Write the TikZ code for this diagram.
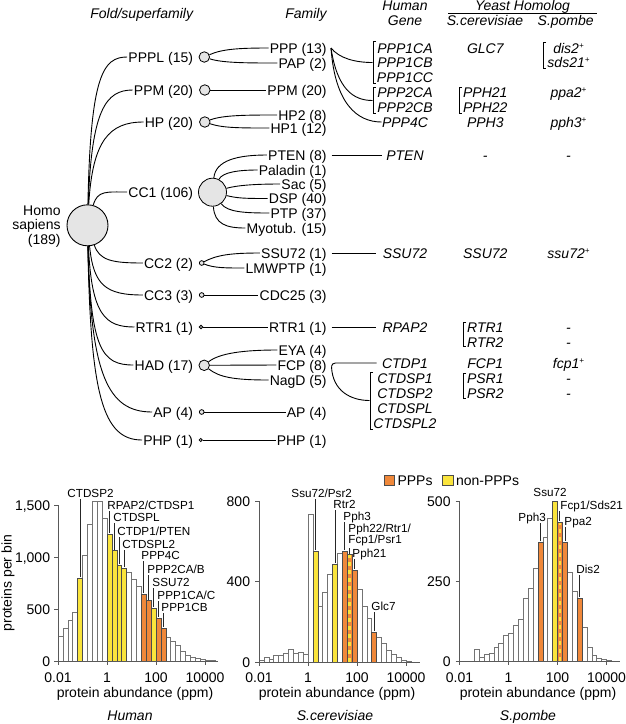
\documentclass[tikz,border=0pt]{standalone}
\usepackage{fontspec}
\setmainfont{Liberation Sans}
\usetikzlibrary{calc}
\definecolor{cor}{RGB}{240,136,58}
\definecolor{cye}{RGB}{250,228,60}
\definecolor{cfill}{RGB}{229,229,229}
\newcommand\fsz[1]{\fontsize{#1}{#1}\selectfont}
\newcommand\spl{\raisebox{4.5pt}{\fsz{8}+}}
\newcommand\hbars[4]{\foreach \hh [count=\ii from 0] in {#4}{\ifnum\hh>0 \draw[bW] ({#1+\ii*4.9},#2) rectangle ({#1+(\ii+1)*4.9},{#2-\hh*#3});\fi}}
\newcommand\cb[6]{\draw[#1] ({#2+#5*4.9},#3) rectangle ({#2+(#5+1)*4.9},{#3-#6*#4});}
\newcommand\sbar[5]{\fill[cor] ({#1+#4*4.9},#2) rectangle ({#1+(#4+1)*4.9},{#2-#5*#3});
 \draw[cye, line width=2.6pt, dash pattern=on 4pt off 4pt] ({#1+(#4+0.5)*4.9},{#2-0.5}) -- ({#1+(#4+0.5)*4.9},{#2-#5*#3+0.5});
 \draw[bC] ({#1+#4*4.9},#2) rectangle ({#1+(#4+1)*4.9},{#2-#5*#3});}
\newcommand\lbrak[3]{\draw[line width=0.8pt] ({#1+3},#2) -- (#1,#2) -- (#1,#3) -- ({#1+3},#3);}
\begin{document}
\begin{tikzpicture}[x=1pt,y=-1pt, line width=0.9pt,
  tx/.style={font=\fsz{14}, text height=10pt, text depth=0pt, inner sep=0pt},
  itx/.style={tx, font=\fsz{14}\itshape},
  sfc/.style={circle, draw, fill=cfill, inner sep=0pt, line width=0.8pt},
  tl/.style={line width=0.9pt, shorten >=0.8pt},
  hl/.style={font=\fsz{11.7}, text height=8.4pt, text depth=0pt, inner sep=0pt, anchor=west},
  bW/.style={draw=black!55, fill=white, line width=0.55pt},
  bC/.style={draw=black!70, line width=0.55pt},
  bO/.style={bC, fill=cor},
  bY/.style={bC, fill=cye},
  lead/.style={line width=0.7pt, black!85, shorten <=1.5pt},
  axl/.style={draw=black!65, line width=0.9pt}]
\useasboundingbox (0,0) rectangle (625,724);

% ---------- headers
\node[itx, anchor=east] (hfold) at (193.5,13) {Fold/superfamily};
\node[itx, anchor=east] (hfam) at (327,13) {Family};
\node[font=\fontsize{14}{15}\selectfont\itshape, align=center, anchor=north, inner sep=0pt] (hgene) at (405,0.3) {Human\\Gene};
\node[itx] (hyeast) at (522.5,5.5) {Yeast Homolog};
\draw[line width=0.9pt] (448.3,13.3) -- (596.7,13.3);
\node[itx] (hcer) at (485,20.7) {S.cerevisiae};
\node[itx] (hpom) at (565.7,20.7) {S.pombe};

% ---------- root
\node[circle, draw, fill=cfill, minimum size=41pt, inner sep=0pt, line width=0.9pt] (root) at (87.5,225.3) {};
\node[font=\fontsize{14}{14.7}\selectfont, align=right, anchor=east, inner sep=0pt] (rootl) at (61,226.5) {Homo\\sapiens\\(189)};

% ---------- superfamily labels
\node[tx, anchor=east] (sPPPL) at (193.5,57) {PPPL (15)};
\node[tx, anchor=east] (sPPM) at (193.5,90) {PPM (20)};
\node[tx, anchor=east] (sHP) at (193.5,122) {HP (20)};
\node[tx, anchor=east] (sCC1) at (193.5,192) {CC1 (106)};
\node[tx, anchor=east] (sCC2) at (193.5,263) {CC2 (2)};
\node[tx, anchor=east] (sCC3) at (193.5,295) {CC3 (3)};
\node[tx, anchor=east] (sRTR1) at (193.5,327) {RTR1 (1)};
\node[tx, anchor=east] (sHAD) at (193.5,365) {HAD (17)};
\node[tx, anchor=east] (sAP) at (193.5,412) {AP (4)};
\node[tx, anchor=east] (sPHP) at (193.5,440) {PHP (1)};

% ---------- superfamily circles
\node[sfc, minimum size=10.5pt] (cPPPL) at (204.3,57) {};
\node[sfc, minimum size=10.5pt] (cPPM) at (204.8,90) {};
\node[sfc, minimum size=10.5pt] (cHP) at (204.8,122) {};
\node[sfc, minimum size=28pt] (cCC1) at (212.5,192.2) {};
\node[sfc, minimum size=4.7pt] (cCC2) at (201.7,263) {};
\node[sfc, minimum size=4.7pt] (cCC3) at (201.7,295) {};
\node[sfc, minimum size=3.4pt] (cRTR1) at (201,327) {};
\node[sfc, minimum size=10.5pt] (cHAD) at (204.2,365.3) {};
\node[sfc, minimum size=4.7pt] (cAP) at (201.7,412) {};
\node[sfc, minimum size=3.2pt] (cPHP) at (200.7,440) {};

% ---------- root curves
\draw[tl] (root) .. controls +(3,-150) and +(-25,0) .. (sPPPL.west);
\draw[tl] (root) .. controls +(4,-115) and +(-28,0) .. (sPPM.west);
\draw[tl] (root) .. controls +(5,-85) and +(-35,0) .. (sHP.west);
\draw[tl] (root) .. controls +(10,-35) and +(-22,0) .. (sCC1.west);
\draw[tl] (root) .. controls +(12,35) and +(-32,0) .. (sCC2.west);
\draw[tl] (root) .. controls +(6,60) and +(-38,0) .. (sCC3.west);
\draw[tl] (root) .. controls +(4,90) and +(-30,0) .. (sRTR1.west);
\draw[tl] (root) .. controls +(3,125) and +(-32,0) .. (sHAD.west);
\draw[tl] (root) .. controls +(3,150) and +(-45,0) .. (sAP.west);
\draw[tl] (root) .. controls +(3,170) and +(-40,0) .. (sPHP.west);

% ---------- family labels
\node[tx, anchor=east] (fPPP) at (327,48) {PPP (13)};
\node[tx, anchor=east] (fPAP) at (327,63) {PAP (2)};
\node[tx, anchor=east] (fPPM) at (327,90) {PPM (20)};
\node[tx, anchor=east] (fHP2) at (327,115) {HP2 (8)};
\node[tx, anchor=east] (fHP1) at (327,128) {HP1 (12)};
\node[tx, anchor=east] (fPTEN) at (327,155) {PTEN (8)};
\node[tx, anchor=east] (fPal) at (327,170) {Paladin (1)};
\node[tx, anchor=east] (fSac) at (327,184) {Sac (5)};
\node[tx, anchor=east] (fDSP) at (327,198.5) {DSP (40)};
\node[tx, anchor=east] (fPTP) at (327,213) {PTP (37)};
\node[tx, anchor=east] (fMyo) at (327,228) {Myotub. (15)};
\node[tx, anchor=east] (fSSU) at (327,253) {SSU72 (1)};
\node[tx, anchor=east] (fLMW) at (327,268) {LMWPTP (1)};
\node[tx, anchor=east] (fCDC) at (327,295) {CDC25 (3)};
\node[tx, anchor=east] (fRTR) at (327,327) {RTR1 (1)};
\node[tx, anchor=east] (fEYA) at (327,350) {EYA (4)};
\node[tx, anchor=east] (fFCP) at (327,365) {FCP (8)};
\node[tx, anchor=east] (fNag) at (327,380) {NagD (5)};
\node[tx, anchor=east] (fAP) at (327,412) {AP (4)};
\node[tx, anchor=east] (fPHP) at (327,440) {PHP (1)};

% ---------- superfamily -> family connectors
\draw[tl] (cPPPL) .. controls +(18,-8) and +(-30,0) .. (fPPP.west);
\draw[tl] (cPPPL) .. controls +(18,6) and +(-30,0) .. (fPAP.west);
\draw[tl] (cPPM) -- (fPPM.west);
\draw[tl] (cHP) .. controls +(18,-7) and +(-30,0) .. (fHP2.west);
\draw[tl] (cHP) .. controls +(18,6) and +(-30,0) .. (fHP1.west);
\draw[tl] (cCC1) .. controls +(3,-32) and +(-30,0) .. (fPTEN.west);
\draw[tl] (cCC1) .. controls +(10,-20) and +(-20,0) .. (fPal.west);
\draw[tl] (cCC1) .. controls +(25,-7) and +(-25,0) .. (fSac.west);
\draw[tl] (cCC1) .. controls +(25,6) and +(-25,0) .. (fDSP.west);
\draw[tl] (cCC1) .. controls +(15,20) and +(-25,0) .. (fPTP.west);
\draw[tl] (cCC1) .. controls +(2,32) and +(-20,0) .. (fMyo.west);
\draw[tl] (cCC2) .. controls +(15,-8) and +(-30,0) .. (fSSU.west);
\draw[tl] (cCC2) .. controls +(12,5) and +(-20,0) .. (fLMW.west);
\draw[tl] (cCC3) -- (fCDC.west);
\draw[tl] (cRTR1) -- (fRTR.west);
\draw[tl] (cHAD) .. controls +(15,-12) and +(-35,0) .. (fEYA.west);
\draw[tl] (cHAD) -- (fFCP.west);
\draw[tl] (cHAD) .. controls +(15,12) and +(-35,0) .. (fNag.west);
\draw[tl] (cAP) -- (fAP.west);
\draw[tl] (cPHP) -- (fPHP.west);

% ---------- human genes
\node[itx] (gP1CA) at (405,48) {PPP1CA};
\node[itx] (gP1CB) at (405,62) {PPP1CB};
\node[itx] (gP1CC) at (405,77) {PPP1CC};
\node[itx] (gP2CA) at (405,92) {PPP2CA};
\node[itx] (gP2CB) at (405,107) {PPP2CB};
\node[itx] (gP4C) at (405,122) {PPP4C};
\node[itx] (gPTEN) at (405,155) {PTEN};
\node[itx] (gSSU) at (405,253) {SSU72};
\node[itx] (gRPAP) at (405,327) {RPAP2};
\node[itx] (gCTDP) at (405,363) {CTDP1};
\node[itx] (gCS1) at (405,378) {CTDSP1};
\node[itx] (gCS2) at (405,393) {CTDSP2};
\node[itx] (gCSL) at (405,408) {CTDSPL};
\node[itx] (gCSL2) at (405,423) {CTDSPL2};
\lbrak{373}{41.7}{83.3}
\lbrak{373}{87}{113}
\lbrak{370}{372}{429}
\coordinate (bP1) at (372.5,62.5);
\coordinate (bP2) at (372.5,100.5);
\coordinate (bCS) at (369.5,400.5);
\coordinate (pppR) at ([xshift=4pt]fPPP.east);
\coordinate (fcpR) at ([xshift=4.5pt,yshift=-1.5pt]fFCP.east);

% ---------- family -> gene connectors
\draw[line width=0.9pt] (pppR) .. controls +(8,10) and +(-18,0) .. (bP1);
\draw[line width=0.9pt] (pppR) .. controls +(6,40) and +(-20,0) .. (bP2);
\draw[line width=0.9pt] (pppR) .. controls +(4,55) and +(-25,0) .. (gP4C.west);
\draw[line width=0.9pt, shorten <=4.5pt, shorten >=3.5pt] (fPTEN.east) -- (gPTEN.west);
\draw[line width=0.9pt, shorten <=4.5pt, shorten >=6pt] (fSSU.east) -- (gSSU.west);
\draw[line width=0.9pt, shorten <=4.5pt, shorten >=6pt] (fRTR.east) -- (gRPAP.west);
\draw[line width=0.9pt] (fcpR) to[out=90,in=180] ++(4,-3.5) -- ([xshift=-5pt]gCTDP.west);
\draw[line width=0.9pt] (fcpR) .. controls +(1,25) and +(-18,0) .. (bCS);

% ---------- S.cerevisiae
\node[itx] (cGLC) at (485.3,48) {GLC7};
\node[itx] (cP21) at (485.3,92) {PPH21};
\node[itx] (cP22) at (485.3,107) {PPH22};
\node[itx] (cP3) at (485.3,122) {PPH3};
\node[itx] (cD1) at (485.3,155) {-};
\node[itx] (cSSU) at (485.3,253) {SSU72};
\node[itx] (cRT1) at (485.3,327) {RTR1};
\node[itx] (cRT2) at (485.3,342) {RTR2};
\node[itx] (cFCP) at (485.3,363) {FCP1};
\node[itx] (cPS1) at (485.3,378) {PSR1};
\node[itx] (cPS2) at (485.3,393) {PSR2};
\lbrak{459}{87}{113}
\lbrak{463}{322}{346}
\lbrak{463}{373}{398}

% ---------- S.pombe
\node[itx] (pDis) at (568.5,48) {dis2\spl};
\node[itx] (pSds) at (568.5,62) {sds21\spl};
\node[itx] (pPpa) at (568.5,92) {ppa2\spl};
\node[itx] (pPph) at (568.5,122) {pph3\spl};
\node[itx] (pD1) at (568.5,155) {-};
\node[itx] (pSSU) at (568.5,253) {ssu72\spl};
\node[itx] (pD2) at (568.5,327) {-};
\node[itx] (pD3) at (568.5,342) {-};
\node[itx] (pFcp) at (568.5,363) {fcp1\spl};
\node[itx] (pD4) at (568.5,378) {-};
\node[itx] (pD5) at (568.5,393) {-};
\lbrak{543}{42}{68}

% ================= histograms =================
% Human
\hbars{58}{661}{0.104}{234,314,394,470,795,1019,1317,1540,1540,1375,1221,1060,923,891,855,790,718,640,580,510,413,314,232,191,150,93,58,38,22,16,10,5}
\cb{bY}{58}{661}{0.104}{4}{795}
\cb{bY}{58}{661}{0.104}{10}{1221}
\cb{bY}{58}{661}{0.104}{11}{1060}
\cb{bY}{58}{661}{0.104}{12}{923}
\cb{bY}{58}{661}{0.104}{13}{891}
\cb{bO}{58}{661}{0.104}{17}{640}
\cb{bO}{58}{661}{0.104}{18}{580}
\cb{bY}{58}{661}{0.104}{19}{510}
\cb{bO}{58}{661}{0.104}{20}{413}
\cb{bO}{58}{661}{0.104}{21}{314}
\draw[axl] (58,505) -- (58,661) -- (218,661);
\foreach \yy in {505,557,609,661} \draw[axl] (54,\yy) -- (58,\yy);
\foreach \xx in {58,107,156,205} \draw[axl] (\xx,661) -- (\xx,665);
\node[tx, anchor=east] (hy3) at (50.5,505) {1,500};
\node[tx, anchor=east] (hy2) at (50.5,557) {1,000};
\node[tx, anchor=east] (hy1) at (50.5,609) {500};
\node[tx, anchor=east] (hy0) at (50.5,661) {0};
\node[tx] (hx0) at (58,677) {0.01};
\node[tx] (hx1) at (107,677) {1};
\node[tx] (hx2) at (156,677) {100};
\node[tx] (hx3) at (205,677) {10000};
\node[tx] (hxl) at (135,692) {protein abundance (ppm)};
\node[itx] (hsp) at (130,715) {Human};
\node[font=\fsz{14}, rotate=90, inner sep=0pt] (hyl) at (8,583) {proteins per bin};
% human labels
\node[hl] (lh1) at (67,493) {CTDSP2};
\node[hl] (lh2) at (107,505) {RPAP2/CTDSP1};
\node[hl] (lh3) at (113,517) {CTDSPL};
\node[hl] (lh4) at (117,531) {CTDP1/PTEN};
\node[hl] (lh5) at (122,544) {CTDSPL2};
\node[hl] (lh6) at (141,555) {PPP4C};
\node[hl] (lh7) at (147,569) {PPP2CA/B};
\node[hl] (lh8) at (152,582) {SSU72};
\node[hl] (lh9) at (157,595) {PPP1CA/C};
\node[hl] (lh10) at (161,607) {PPP1CB};
\coordinate (th1) at ({58+4.5*4.9},{661-795*0.104-1});
\coordinate (th2) at ({58+10.5*4.9},{661-1221*0.104-1});
\coordinate (th3) at ({58+11.5*4.9},{661-1060*0.104-1});
\coordinate (th4) at ({58+12.5*4.9},{661-923*0.104-1});
\coordinate (th5) at ({58+13.5*4.9},{661-891*0.104-1});
\coordinate (th6) at ({58+17.5*4.9},{661-640*0.104-1});
\coordinate (th7) at ({58+18.5*4.9},{661-580*0.104-1});
\coordinate (th8) at ({58+19.5*4.9},{661-510*0.104-1});
\coordinate (th9) at ({58+20.5*4.9},{661-413*0.104-1});
\coordinate (th10) at ({58+21.5*4.9},{661-314*0.104-1});
\foreach \k in {1,...,10} \draw[lead] (lh\k.south -| th\k) -- (th\k);

% S.cerevisiae
\hbars{259}{662}{0.20125}{8,22,12,33,33,42,65,42,47,40,735,550,275,347,435,487,542,550,534,455,360,275,218,147,125,95,60,38,23,11,6}
\cb{bY}{259}{662}{0.20125}{11}{550}
\cb{bY}{259}{662}{0.20125}{15}{487}
\cb{bO}{259}{662}{0.20125}{17}{550}
\sbar{259}{662}{0.20125}{18}{534}
\cb{bO}{259}{662}{0.20125}{19}{455}
\cb{bO}{259}{662}{0.20125}{23}{147}
\draw[axl] (259,501) -- (259,662) -- (420,662);
\foreach \yy in {501,581.5,662} \draw[axl] (255,\yy) -- (259,\yy);
\foreach \xx in {259,308,357,406} \draw[axl] (\xx,662) -- (\xx,666);
\node[tx, anchor=east] (cy2) at (250.5,501) {800};
\node[tx, anchor=east] (cy1) at (250.5,581.5) {400};
\node[tx, anchor=east] (cy0) at (250.5,662) {0};
\node[tx] (cx0) at (259,677) {0.01};
\node[tx] (cx1) at (308,677) {1};
\node[tx] (cx2) at (357,677) {100};
\node[tx] (cx3) at (406,677) {10000};
\node[tx] (cxl) at (337,692) {protein abundance (ppm)};
\node[itx] (csp) at (335,715) {S.cerevisiae};
\node[hl] (lc1) at (291,493) {Ssu72/Psr2};
\node[hl] (lc2) at (333,504) {Rtr2};
\node[hl] (lc3) at (343,516) {Pph3};
\node[font=\fontsize{11.7}{11}\selectfont, align=left, anchor=north west, inner sep=0pt] (lc4) at (348,523.8) {Pph22/Rtr1/\\Fcp1/Psr1};
\node[hl] (lc5) at (352,553) {Pph21};
\node[hl] (lc6) at (371,606) {Glc7};
\coordinate (tc1) at ({259+11.5*4.9},{662-550*0.20125-1});
\coordinate (tc2) at ({259+15.5*4.9},{662-487*0.20125-1});
\coordinate (tc3) at ({259+17.5*4.9},{662-550*0.20125-1});
\coordinate (tc4) at ({259+18.5*4.9},{662-534*0.20125-1});
\coordinate (tc5) at ({259+19.5*4.9},{662-455*0.20125-1});
\coordinate (tc6) at ({259+23.5*4.9},{662-147*0.20125-1});
\foreach \k in {1,...,6} \draw[lead] (lc\k.south -| tc\k) -- (tc\k);

% S.pombe
\hbars{459.5}{661}{0.32}{0,0,0,38,12,21,23,42,54,80,88,111,129,195,226,290,372,387,445,499,434,372,278,218,197,106,42,18,7,5,3}
\cb{bO}{459.5}{661}{0.32}{16}{372}
\cb{bY}{459.5}{661}{0.32}{19}{499}
\sbar{459.5}{661}{0.32}{20}{434}
\cb{bO}{459.5}{661}{0.32}{21}{372}
\cb{bO}{459.5}{661}{0.32}{24}{197}
\draw[axl] (459.5,501) -- (459.5,661) -- (620,661);
\foreach \yy in {501,581,661} \draw[axl] (455.5,\yy) -- (459.5,\yy);
\foreach \xx in {459.5,508.5,557.5,606.5} \draw[axl] (\xx,661) -- (\xx,665);
\node[tx, anchor=east] (py2) at (451,501) {500};
\node[tx, anchor=east] (py1) at (451,581) {250};
\node[tx, anchor=east] (py0) at (451,661) {0};
\node[tx] (px0) at (459.5,677) {0.01};
\node[tx] (px1) at (508.5,677) {1};
\node[tx] (px2) at (557.5,677) {100};
\node[tx] (px3) at (606.5,677) {10000};
\node[tx] (pxl) at (538,692) {protein abundance (ppm)};
\node[itx] (psp) at (528,715) {S.pombe};
\node[hl] (lp0) at (533,492) {Ssu72};
\node[hl] (lp1) at (560,505) {Fcp1/Sds21};
\node[hl] (lp2) at (518,517) {Pph3};
\node[hl] (lp3) at (564,521) {Ppa2};
\node[hl] (lp4) at (576,569) {Dis2};
\coordinate (tp1) at ({459.5+20.5*4.9-1},{661-434*0.32-1});
\coordinate (tp2) at ({459.5+16.5*4.9},{661-372*0.32-1});
\coordinate (tp3) at ({459.5+21.5*4.9},{661-372*0.32-1});
\coordinate (tp4) at ({459.5+24.5*4.9},{661-197*0.32-1});
\foreach \k in {1,...,4} \draw[lead] (lp\k.south -| tp\k) -- (tp\k);

% legend
\node[draw=black!70, fill=cor, minimum size=10.5pt, inner sep=0pt, line width=0.6pt] (legO) at (389.5,480.5) {};
\node[tx, anchor=west] (legOt) at ([xshift=2pt]legO.east) {PPPs};
\node[draw=black!70, fill=cye, minimum size=10.5pt, inner sep=0pt, line width=0.6pt] (legY) at (448,480.5) {};
\node[tx, anchor=west] (legYt) at ([xshift=2pt]legY.east) {non-PPPs};
\end{tikzpicture}
\end{document}
